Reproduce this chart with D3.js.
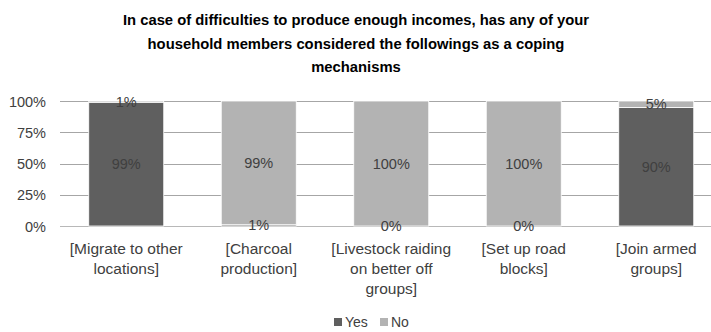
<!DOCTYPE html>
<html><head><meta charset="utf-8">
<script src="https://cdn.jsdelivr.net/npm/d3@7"></script>
<style>body{margin:0;background:#fff}svg{display:block}</style>
</head><body>
<svg id="c" width="711" height="332"></svg>
<script>
const categories = [
  ["[Migrate to other", "locations]"],
  ["[Charcoal", "production]"],
  ["[Livestock raiding", "on better off", "groups]"],
  ["[Set up road", "blocks]"],
  ["[Join armed", "groups]"]
];
const yesValues = [99, 1, 0, 0, 90];
const noValues = [1, 99, 100, 100, 5];
const yTicks = [0, 0.25, 0.5, 0.75, 1];
const titleLines = [
  "In case of difficulties to produce enough incomes, has any of your",
  "household members considered the followings as a coping",
  "mechanisms"
];
const seriesNames = ["Yes", "No"];
const colors = ["#5f5f5f", "#b3b3b3"];

const svg = d3.select("#c");
const font = "'Liberation Sans', Arial, sans-serif";
const textColor = "#404040";
const m = {left: 60, top: 101, bottom: 226};
const x = d3.scaleBand().domain(d3.range(categories.length)).range([60, 722.5]).paddingInner(0.434).paddingOuter(0.217);
const y = d3.scaleLinear().domain([0, 1]).range([m.bottom, m.top]);

// title
svg.append("g").selectAll("text").data(titleLines).join("text")
  .attr("x", 356).attr("y", (d, i) => 25 + i * 23.5)
  .attr("text-anchor", "middle").attr("font-family", font).attr("font-weight", "bold")
  .attr("font-size", 14.8).attr("fill", "#000").text(d => d);

// gridlines
svg.append("g").selectAll("line").data(yTicks).join("line")
  .attr("x1", 60).attr("x2", 711).attr("y1", d => Math.round(y(d)) + 0.5).attr("y2", d => Math.round(y(d)) + 0.5)
  .attr("stroke", d => d === 0 ? "#b8b8b8" : "#a6a6a6").attr("stroke-width", 1);

// y axis labels
const yAxis = d3.axisLeft(y).tickValues(yTicks).tickFormat(d3.format(".0%")).tickSize(0).tickPadding(0);
const ga = svg.append("g").attr("transform", "translate(46,0)").call(yAxis);
ga.select(".domain").remove();
ga.selectAll("text").attr("font-family", font).attr("font-size", 14.5).attr("fill", textColor).attr("dy", "0.35em");

// stacked data
const rows = categories.map((c, i) => {
  const t = yesValues[i] + noValues[i];
  return {i, yes: yesValues[i] / t, no: noValues[i] / t};
});
const stack = d3.stack().keys(["yes", "no"])(rows);
const gb = svg.append("g");
stack.forEach((s, k) => {
  gb.selectAll(null).data(s).join("rect")
    .attr("x", d => x(d.data.i)).attr("width", x.bandwidth())
    .attr("y", d => y(d[1])).attr("height", d => y(d[0]) - y(d[1]))
    .attr("fill", colors[k]).attr("stroke", "#fff").attr("stroke-width", 0.8);
});
// data labels
const vals = [yesValues, noValues];
stack.forEach((s, k) => {
  gb.selectAll(null).data(s).join("text")
    .attr("x", d => x(d.data.i) + x.bandwidth() / 2)
    .attr("y", d => (y(d[0]) + y(d[1])) / 2).attr("dy", "0.35em")
    .attr("text-anchor", "middle").attr("font-family", font).attr("font-size", 14.5).attr("fill", textColor)
    .text(d => vals[k][d.data.i] + "%");
});

// x labels: centered lines
const gx = svg.append("g");
categories.forEach((lines, i) => {
  gx.append("g").selectAll("text").data(lines).join("text")
    .attr("x", x(i) + x.bandwidth() / 2).attr("y", (d, j) => 254 + j * 20)
    .attr("text-anchor", "middle").attr("font-family", font).attr("font-size", 15.5).attr("fill", textColor)
    .text(d => d);
});

// legend
const lg = svg.append("g").attr("transform", "translate(334,318)");
const lx = [0, 46];
seriesNames.forEach((n, k) => {
  lg.append("rect").attr("x", lx[k]).attr("y", 0).attr("width", 8).attr("height", 8).attr("fill", colors[k]);
  lg.append("text").attr("x", lx[k] + 11).attr("y", 4).attr("dy", "0.35em").attr("font-family", font)
    .attr("font-size", 14).attr("fill", textColor).text(n);
});
</script>
</body></html>
